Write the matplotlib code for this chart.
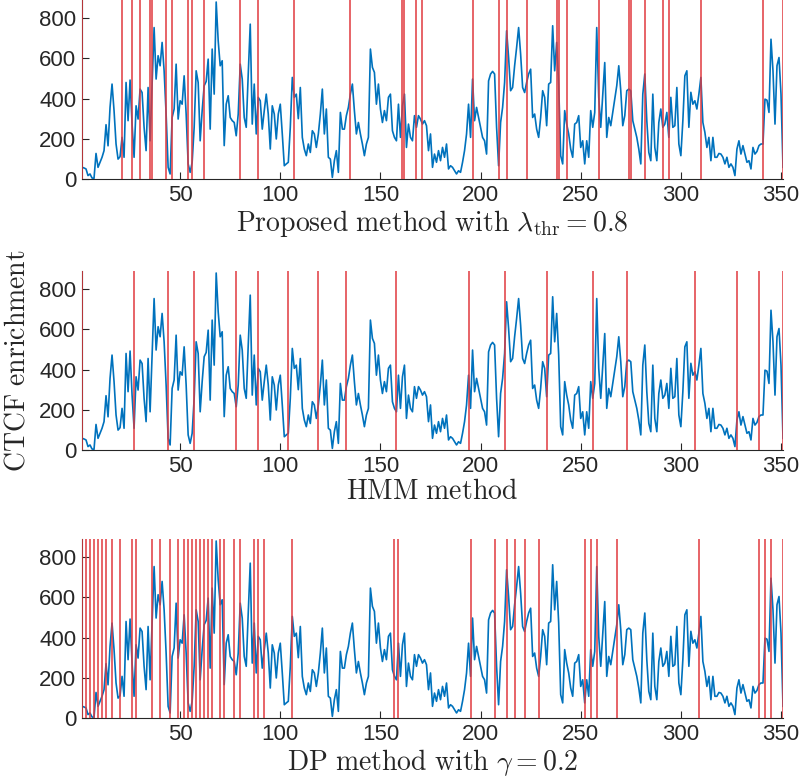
import matplotlib
matplotlib.use("Agg")
import matplotlib.pyplot as plt
import numpy as np

# CTCF enrichment signal, positions 1..351
signal = [
    58, 55, 50, 17, 25, 5, 3, 127, 58, 83,
    108, 141, 270, 165, 356, 472, 340, 174, 99, 111,
    207, 108, 480, 290, 492, 273, 108, 364, 298, 447,
    430, 257, 141, 455, 190, 464, 753, 497, 613, 563,
    679, 538, 323, 58, 25, 306, 348, 571, 298, 389,
    372, 513, 323, 75, 33, 83, 257, 538, 480, 190,
    340, 464, 485, 596, 248, 646, 422, 880, 687, 563,
    588, 166, 372, 414, 306, 290, 281, 215, 323, 571,
    497, 306, 257, 522, 770, 273, 472, 224, 406, 389,
    248, 340, 422, 323, 149, 364, 323, 199, 323, 372,
    224, 66, 75, 83, 257, 505, 406, 422, 300, 455,
    207, 149, 116, 174, 132, 240, 224, 157, 224, 323,
    447, 224, 348, 108, 99, 8, 91, 141, 33, 331,
    248, 248, 315, 356, 422, 472, 340, 224, 281, 224,
    174, 116, 174, 207, 646, 555, 530, 372, 472, 348,
    281, 340, 290, 406, 422, 240, 207, 190, 372, 207,
    364, 422, 157, 273, 207, 190, 315, 257, 315, 298,
    273, 290, 265, 141, 224, 58, 124, 83, 141, 91,
    157, 108, 174, 50, 66, 58, 41, 25, 41, 33,
    83, 141, 224, 372, 207, 497, 290, 356, 306, 257,
    207, 190, 124, 488, 522, 535, 522, 257, 66, 281,
    356, 480, 737, 604, 439, 455, 563, 654, 753, 621,
    455, 430, 480, 522, 546, 306, 323, 248, 207, 306,
    439, 406, 265, 472, 480, 762, 538, 679, 472, 116,
    75, 340, 273, 224, 149, 108, 273, 281, 315, 157,
    190, 75, 190, 108, 340, 257, 331, 753, 406, 257,
    422, 579, 207, 306, 265, 331, 397, 464, 563, 439,
    265, 315, 439, 447, 439, 290, 248, 207, 149, 75,
    422, 522, 290, 132, 91, 422, 157, 91, 281, 348,
    257, 273, 331, 207, 406, 257, 265, 455, 174, 116,
    290, 513, 538, 257, 431, 372, 389, 348, 422, 505,
    281, 232, 157, 207, 91, 207, 108, 108, 127, 124,
    108, 75, 108, 58, 75, 58, 17, 149, 190, 124,
    166, 124, 83, 91, 50, 157, 124, 137, 166, 174,
    174, 397, 392, 331, 695, 538, 273, 563, 604, 422,
    58,
]

# change points found by each method
bp_proposed = [1, 21, 26, 30, 35, 36, 43, 46, 54, 56, 62, 80, 89, 107, 135,
               161, 162, 168, 171, 196, 209, 213, 223, 238, 239, 243, 259,
               274, 275, 282, 291, 294, 310, 341, 351]
bp_hmm = [1, 27, 44, 57, 78, 89, 104, 119, 133, 158, 194, 212, 233, 256,
          273, 307, 328, 339, 351]
bp_dp = [1, 3, 5, 7, 9, 11, 13, 16, 20, 26, 28, 36, 40, 45, 49, 52, 54, 56,
         58, 60, 62, 64, 66, 70, 72, 77, 80, 87, 89, 92, 106, 157, 159, 195,
         207, 213, 217, 222, 229, 252, 255, 258, 268, 309, 339, 342, 345, 351]

titles = [r"$\mathrm{Proposed\ method\ with\ }\lambda_{\mathrm{thr}} = 0.8$",
          r"$\mathrm{HMM\ method}$",
          r"$\mathrm{DP\ method\ with\ }\gamma = 0.2$"]

plt.rcParams['mathtext.fontset'] = 'cm'
plt.rcParams['font.family'] = 'Liberation Sans'

blue = '#0072BD'
red = '#E0393E'
dark = '#262626'

fig = plt.figure(figsize=(8, 7.82), dpi=100)
x = np.arange(1, len(signal) + 1)
bottoms = [1 - 179 / 782, 1 - 450 / 782, 1 - 718 / 782]

for k, (bps, ttl) in enumerate(zip([bp_proposed, bp_hmm, bp_dp], titles)):
    ax = fig.add_axes([82 / 800, bottoms[k], 701 / 800, 179 / 782])
    ax.plot(x, signal, color=blue, lw=1.2, zorder=2)
    for b in bps:
        ax.axvline(b, color=red, lw=1.1, zorder=3)
    ax.set_xlim(1, 351)
    ax.set_ylim(0, 890)
    ax.set_xticks([50, 100, 150, 200, 250, 300, 350])
    ax.set_yticks([0, 200, 400, 600, 800])
    ax.tick_params(direction='in', labelsize=16, colors=dark, length=5,
                   width=0.8, pad=4)
    for s in ['top', 'right']:
        ax.spines[s].set_visible(False)
    for s in ['left', 'bottom']:
        ax.spines[s].set_color(dark)
        ax.spines[s].set_linewidth(0.8)
    ax.set_xlabel(ttl, fontsize=20, color=dark, labelpad=2)
    if k == 1:
        ax.set_ylabel(r"$\mathrm{CTCF\ enrichment}$", fontsize=20,
                      color=dark, labelpad=6)

fig.savefig("out.png", dpi=100)
